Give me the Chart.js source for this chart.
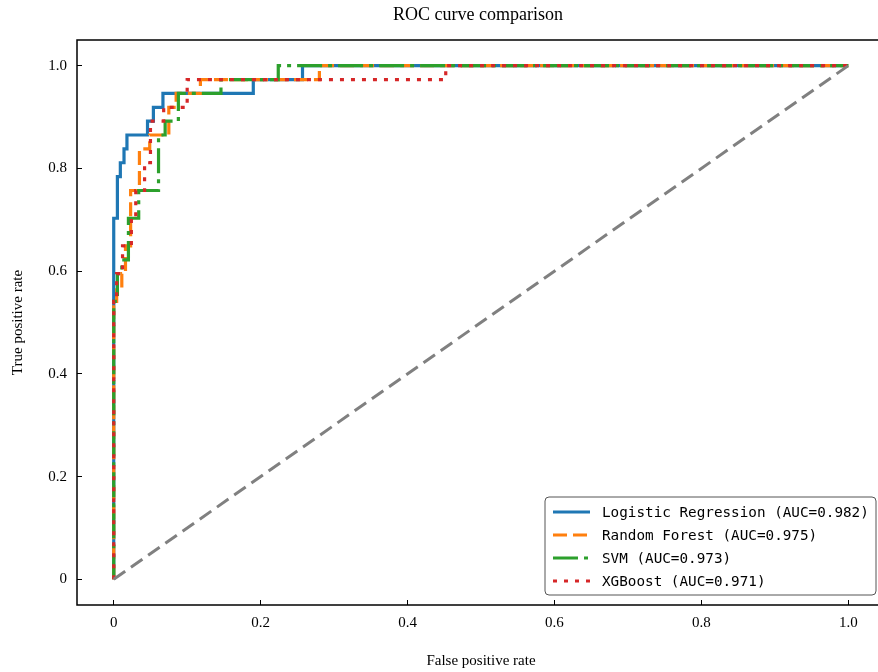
<!DOCTYPE html>
<html>
<head>
<meta charset="utf-8">
<script src="https://cdn.jsdelivr.net/npm/chart.js@4.4.1/dist/chart.umd.min.js"></script>
<style>
  html, body { margin: 0; padding: 0; background: #fff; overflow: hidden; }
</style>
</head>
<body>
<canvas id="roc" width="890" height="672"></canvas>
<script>
// ROC points (fpr / tpr corners of each step curve)
const lrFpr = [0, 0, 0.005, 0.005, 0.009, 0.009, 0.014, 0.014, 0.018, 0.018, 0.046, 0.046, 0.054, 0.054, 0.067, 0.067, 0.19, 0.19, 0.257, 0.257, 1];
const lrTpr = [0, 0.703, 0.703, 0.784, 0.784, 0.811, 0.811, 0.838, 0.838, 0.865, 0.865, 0.892, 0.892, 0.919, 0.919, 0.946, 0.946, 0.973, 0.973, 1, 1];

const rfFpr = [0, 0, 0.004, 0.004, 0.011, 0.011, 0.016, 0.016, 0.023, 0.023, 0.035, 0.035, 0.049, 0.049, 0.075, 0.075, 0.085, 0.085, 0.118, 0.118, 0.28, 0.28, 1];
const rfTpr = [0, 0.541, 0.541, 0.568, 0.568, 0.595, 0.595, 0.649, 0.649, 0.757, 0.757, 0.838, 0.838, 0.865, 0.865, 0.919, 0.919, 0.946, 0.946, 0.973, 0.973, 1, 1];

const svmFpr = [0, 0, 0.005, 0.005, 0.011, 0.011, 0.02, 0.02, 0.034, 0.034, 0.061, 0.061, 0.07, 0.07, 0.088, 0.088, 0.146, 0.146, 0.224, 0.224, 1];
const svmTpr = [0, 0.541, 0.541, 0.595, 0.595, 0.622, 0.622, 0.703, 0.703, 0.757, 0.757, 0.865, 0.865, 0.892, 0.892, 0.946, 0.946, 0.973, 0.973, 1, 1];

const xgbFpr = [0, 0, 0.004, 0.004, 0.012, 0.012, 0.024, 0.024, 0.03, 0.03, 0.042, 0.042, 0.05, 0.05, 0.068, 0.068, 0.1, 0.1, 0.452, 0.452, 1];
const xgbTpr = [0, 0.541, 0.541, 0.595, 0.595, 0.649, 0.649, 0.703, 0.703, 0.757, 0.757, 0.811, 0.811, 0.892, 0.892, 0.919, 0.919, 0.973, 0.973, 1, 1];

const diagX = [0, 1];
const diagY = [0, 1];

const modelNames = ['Logistic Regression', 'Random Forest', 'SVM', 'XGBoost'];
const aucValues = [0.982, 0.975, 0.973, 0.971];

const tickValues = [0, 0.2, 0.4, 0.6, 0.8, 1.0];
const tickLabels = ['0', '0.2', '0.4', '0.6', '0.8', '1.0'];

function pts(xs, ys) {
    return xs.map((x, i) => ({ x: x, y: ys[i] }));
}

const serif = '"Liberation Serif", "Times New Roman", serif';
const mono = '"DejaVu Sans Mono", monospace';

// title, frame and legend are drawn on top like matplotlib does
const decorPlugin = {
    id: 'decor',
    afterDraw(chart) {
        const ctx = chart.ctx;
        const a = chart.chartArea;
        ctx.save();

        ctx.fillStyle = '#000';
        ctx.font = '18px ' + serif;
        ctx.textAlign = 'center';
        ctx.textBaseline = 'middle';
        ctx.fillText('ROC curve comparison', (a.left + a.right) / 2 - 3, 15);

        ctx.strokeStyle = '#000';
        ctx.lineWidth = 1.5;
        ctx.strokeRect(a.left, a.top, a.right - a.left, a.bottom - a.top);

        // legend box
        const bx = 545, by = 497, bw = 331, bh = 98;
        ctx.beginPath();
        ctx.roundRect(bx, by, bw, bh, 4);
        ctx.fillStyle = 'rgba(255,255,255,0.85)';
        ctx.fill();
        ctx.strokeStyle = '#555';
        ctx.lineWidth = 1;
        ctx.stroke();

        ctx.font = '14.3px ' + mono;
        ctx.textAlign = 'left';
        for (let i = 0; i < 4; i++) {
            const ds = chart.data.datasets[i];
            const y = 512 + i * 23;
            ctx.beginPath();
            ctx.setLineDash(ds.borderDash || []);
            ctx.strokeStyle = ds.borderColor;
            ctx.lineWidth = ds.borderWidth;
            ctx.moveTo(553, y);
            ctx.lineTo(590, y);
            ctx.stroke();
            ctx.setLineDash([]);
            ctx.fillStyle = '#000';
            ctx.fillText(ds.label, 602, y + 1);
        }
        ctx.restore();
    }
};

function curve(i, xs, ys, color, dash, order) {
    return {
        label: modelNames[i] + ' (AUC=' + aucValues[i].toFixed(3) + ')',
        data: pts(xs, ys),
        borderColor: color,
        borderWidth: 3.2,
        borderDash: dash,
        borderCapStyle: 'butt',
        pointRadius: 0,
        fill: false,
        tension: 0,
        order: order
    };
}

new Chart(document.getElementById('roc'), {
    type: 'line',
    data: {
        datasets: [
            curve(0, lrFpr, lrTpr, '#1f77b4', [], 5),
            curve(1, rfFpr, rfTpr, '#ff7f0e', [14, 6], 4),
            curve(2, svmFpr, svmTpr, '#2ca02c', [25, 6, 4, 6], 3),
            curve(3, xgbFpr, xgbTpr, '#d62728', [4, 7], 2),
            {
                label: 'diag',
                data: pts(diagX, diagY),
                borderColor: '#808080',
                borderWidth: 3,
                borderDash: [14, 7],
                pointRadius: 0,
                fill: false,
                order: 1
            }
        ]
    },
    options: {
        responsive: false,
        animation: false,
        layout: { padding: { left: 0, top: 40, right: 5, bottom: 0 } },
        plugins: {
            legend: { display: false },
            tooltip: { enabled: false }
        },
        scales: {
            x: {
                type: 'linear',
                min: -0.05,
                max: 1.05,
                afterBuildTicks: (s) => { s.ticks = tickValues.map(v => ({ value: v })); },
                afterFit: (s) => { s.height = 67; },
                border: { display: false },
                grid: { drawOnChartArea: false, color: '#000', tickLength: -5, lineWidth: 1 },
                ticks: {
                    color: '#000',
                    padding: 14,
                    maxRotation: 0,
                    font: { family: serif, size: 15 },
                    callback: (v) => tickLabels[tickValues.indexOf(v)]
                },
                title: {
                    display: true,
                    text: 'False positive rate',
                    color: '#000',
                    font: { family: serif, size: 15 },
                    padding: { top: 0, bottom: 2 }
                }
            },
            y: {
                type: 'linear',
                min: -0.05,
                max: 1.05,
                afterBuildTicks: (s) => { s.ticks = tickValues.map(v => ({ value: v })); },
                afterFit: (s) => { s.width = 77; },
                border: { display: false },
                grid: { drawOnChartArea: false, color: '#000', tickLength: -5, lineWidth: 1 },
                ticks: {
                    color: '#000',
                    padding: 15,
                    font: { family: serif, size: 15 },
                    callback: (v) => tickLabels[tickValues.indexOf(v)]
                },
                title: {
                    display: true,
                    text: 'True positive rate',
                    color: '#000',
                    font: { family: serif, size: 15 },
                    padding: { top: 9, bottom: 0 }
                }
            }
        }
    },
    plugins: [decorPlugin]
});
</script>
</body>
</html>
